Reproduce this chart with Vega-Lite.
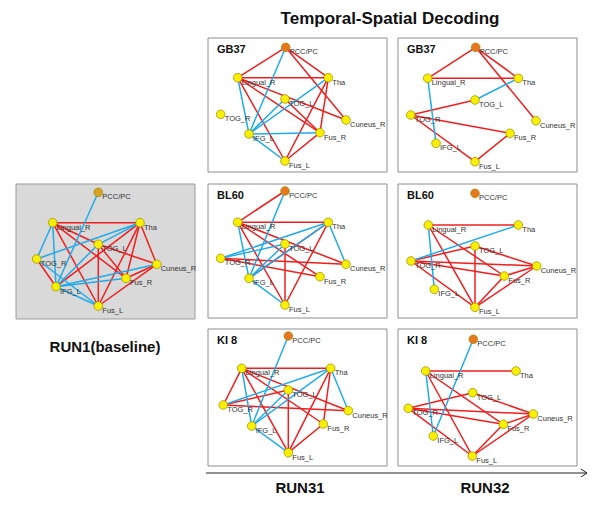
{
  "$schema": "https://vega.github.io/schema/vega-lite/v6.json",
  "width": 600,
  "height": 508,
  "autosize": {"type": "fit", "contains": "padding"},
  "padding": 0,
  "background": "white",
  "config": {"view": {"stroke": null}, "font": "Liberation Sans"},
  "datasets": {
    "boxes": [
      {"kind": "base", "x": 16, "x2": 195, "y": 184, "y2": 319},
      {"kind": "run", "x": 208, "x2": 387, "y": 38, "y2": 172},
      {"kind": "run", "x": 398, "x2": 577, "y": 38, "y2": 172},
      {"kind": "run", "x": 208, "x2": 387, "y": 184, "y2": 318},
      {"kind": "run", "x": 398, "x2": 577, "y": 184, "y2": 318},
      {"kind": "run", "x": 208, "x2": 387, "y": 329, "y2": 466},
      {"kind": "run", "x": 398, "x2": 577, "y": 329, "y2": 466}
    ],
    "nodes": [
      {"k": "b|PCC", "t": "pccb", "label": "PCC/PC", "x": 98.3, "y": 192.3},
      {"k": "b|Ling", "t": "roi", "label": "Lingual_R", "x": 52.7, "y": 222.7},
      {"k": "b|Tha", "t": "roi", "label": "Tha", "x": 140, "y": 222.7},
      {"k": "b|TOGL", "t": "roi", "label": "TOG_L", "x": 98.3, "y": 244.3},
      {"k": "b|TOGR", "t": "roi", "label": "TOG_R", "x": 36.7, "y": 259},
      {"k": "b|Cun", "t": "roi", "label": "Cuneus_R", "x": 156.7, "y": 264.3},
      {"k": "b|FusR", "t": "roi", "label": "Fus_R", "x": 126, "y": 278.3},
      {"k": "b|IFG", "t": "roi", "label": "IFG_L", "x": 56, "y": 286.7},
      {"k": "b|FusL", "t": "roi", "label": "Fus_L", "x": 98.3, "y": 306},

      {"k": "g31|PCC", "t": "pcc", "label": "PCC/PC", "x": 285.7, "y": 47.3},
      {"k": "g31|Ling", "t": "roi", "label": "Lingual_R", "x": 237.7, "y": 77.7},
      {"k": "g31|Tha", "t": "roi", "label": "Tha", "x": 328.3, "y": 77.7},
      {"k": "g31|TOGL", "t": "roi", "label": "TOG_L", "x": 285, "y": 99},
      {"k": "g31|TOGR", "t": "roi", "label": "TOG_R", "x": 220.7, "y": 114.3},
      {"k": "g31|Cun", "t": "roi", "label": "Cuneus_R", "x": 346, "y": 120},
      {"k": "g31|IFG", "t": "roi", "label": "IFG_L", "x": 249, "y": 134},
      {"k": "g31|FusR", "t": "roi", "label": "Fus_R", "x": 320, "y": 132.7},
      {"k": "g31|FusL", "t": "roi", "label": "Fus_L", "x": 285, "y": 161},

      {"k": "g32|PCC", "t": "pcc", "label": "PCC/PC", "x": 475.7, "y": 47.3},
      {"k": "g32|Ling", "t": "roi", "label": "Lingual_R", "x": 427.7, "y": 78.3},
      {"k": "g32|Tha", "t": "roi", "label": "Tha", "x": 518.3, "y": 78.3},
      {"k": "g32|TOGL", "t": "roi", "label": "TOG_L", "x": 475, "y": 100},
      {"k": "g32|TOGR", "t": "roi", "label": "TOG_R", "x": 410.7, "y": 115},
      {"k": "g32|Cun", "t": "roi", "label": "Cuneus_R", "x": 536, "y": 120.7},
      {"k": "g32|IFG", "t": "roi", "label": "IFG_L", "x": 436, "y": 143.3},
      {"k": "g32|FusR", "t": "roi", "label": "Fus_R", "x": 510, "y": 133.3},
      {"k": "g32|FusL", "t": "roi", "label": "Fus_L", "x": 475, "y": 161.7},

      {"k": "l31|PCC", "t": "pcc", "label": "PCC/PC", "x": 285, "y": 191},
      {"k": "l31|Ling", "t": "roi", "label": "Lingual_R", "x": 237.7, "y": 222.3},
      {"k": "l31|Tha", "t": "roi", "label": "Tha", "x": 328.3, "y": 222.3},
      {"k": "l31|TOGL", "t": "roi", "label": "TOG_L", "x": 285, "y": 244},
      {"k": "l31|TOGR", "t": "roi", "label": "TOG_R", "x": 220.7, "y": 258.3},
      {"k": "l31|Cun", "t": "roi", "label": "Cuneus_R", "x": 346, "y": 264.3},
      {"k": "l31|IFG", "t": "roi", "label": "IFG_L", "x": 249, "y": 278.3},
      {"k": "l31|FusR", "t": "roi", "label": "Fus_R", "x": 320, "y": 276.7},
      {"k": "l31|FusL", "t": "roi", "label": "Fus_L", "x": 285, "y": 305},

      {"k": "l32|PCC", "t": "pcc", "label": "PCC/PC", "x": 475, "y": 193.3},
      {"k": "l32|Ling", "t": "roi", "label": "Lingual_R", "x": 428.3, "y": 225},
      {"k": "l32|Tha", "t": "roi", "label": "Tha", "x": 518.3, "y": 225},
      {"k": "l32|TOGL", "t": "roi", "label": "TOG_L", "x": 475, "y": 246},
      {"k": "l32|TOGR", "t": "roi", "label": "TOG_R", "x": 411, "y": 261},
      {"k": "l32|Cun", "t": "roi", "label": "Cuneus_R", "x": 536.7, "y": 266},
      {"k": "l32|IFG", "t": "roi", "label": "IFG_L", "x": 434.3, "y": 289.3},
      {"k": "l32|FusR", "t": "roi", "label": "Fus_R", "x": 504.3, "y": 276},
      {"k": "l32|FusL", "t": "roi", "label": "Fus_L", "x": 475, "y": 307.3},

      {"k": "k31|PCC", "t": "pcc", "label": "PCC/PC", "x": 288.3, "y": 336},
      {"k": "k31|Ling", "t": "roi", "label": "Lingual_R", "x": 241.7, "y": 368.3},
      {"k": "k31|Tha", "t": "roi", "label": "Tha", "x": 330.7, "y": 368.3},
      {"k": "k31|TOGL", "t": "roi", "label": "TOG_L", "x": 288.3, "y": 390},
      {"k": "k31|TOGR", "t": "roi", "label": "TOG_R", "x": 223.3, "y": 405},
      {"k": "k31|Cun", "t": "roi", "label": "Cuneus_R", "x": 348.3, "y": 410.7},
      {"k": "k31|IFG", "t": "roi", "label": "IFG_L", "x": 251.7, "y": 426},
      {"k": "k31|FusR", "t": "roi", "label": "Fus_R", "x": 323.3, "y": 424},
      {"k": "k31|FusL", "t": "roi", "label": "Fus_L", "x": 288.3, "y": 452.7},

      {"k": "k32|PCC", "t": "pcc", "label": "PCC/PC", "x": 473.3, "y": 339.3},
      {"k": "k32|Ling", "t": "roi", "label": "Lingual_R", "x": 425.7, "y": 371},
      {"k": "k32|Tha", "t": "roi", "label": "Tha", "x": 516, "y": 371},
      {"k": "k32|TOGL", "t": "roi", "label": "TOG_L", "x": 472.7, "y": 392.7},
      {"k": "k32|TOGR", "t": "roi", "label": "TOG_R", "x": 408.3, "y": 408.3},
      {"k": "k32|Cun", "t": "roi", "label": "Cuneus_R", "x": 533.3, "y": 414},
      {"k": "k32|IFG", "t": "roi", "label": "IFG_L", "x": 433.3, "y": 436},
      {"k": "k32|FusR", "t": "roi", "label": "Fus_R", "x": 503.3, "y": 424.3},
      {"k": "k32|FusL", "t": "roi", "label": "Fus_L", "x": 472.3, "y": 456}
    ],
    "edges": [
      {"a": "b|Ling", "b": "b|Tha", "c": "r"},
      {"a": "b|Ling", "b": "b|FusL", "c": "r"},
      {"a": "b|Ling", "b": "b|FusR", "c": "r"},
      {"a": "b|Ling", "b": "b|TOGL", "c": "r"},
      {"a": "b|Tha", "b": "b|FusL", "c": "r"},
      {"a": "b|Tha", "b": "b|FusR", "c": "r"},
      {"a": "b|Tha", "b": "b|Cun", "c": "r"},
      {"a": "b|Tha", "b": "b|IFG", "c": "r"},
      {"a": "b|TOGL", "b": "b|FusL", "c": "r"},
      {"a": "b|TOGL", "b": "b|Cun", "c": "r"},
      {"a": "b|TOGL", "b": "b|FusR", "c": "r"},
      {"a": "b|TOGR", "b": "b|IFG", "c": "r"},
      {"a": "b|Cun", "b": "b|FusL", "c": "r"},
      {"a": "b|Cun", "b": "b|FusR", "c": "r"},
      {"a": "b|PCC", "b": "b|IFG", "c": "b"},
      {"a": "b|Ling", "b": "b|TOGR", "c": "b"},
      {"a": "b|Ling", "b": "b|IFG", "c": "b"},
      {"a": "b|Tha", "b": "b|TOGR", "c": "b"},
      {"a": "b|Tha", "b": "b|TOGL", "c": "b"},
      {"a": "b|TOGL", "b": "b|IFG", "c": "b"},
      {"a": "b|TOGR", "b": "b|FusL", "c": "b"},
      {"a": "b|IFG", "b": "b|Cun", "c": "b"},
      {"a": "b|IFG", "b": "b|FusR", "c": "b"},
      {"a": "b|IFG", "b": "b|FusL", "c": "b"},

      {"a": "g31|PCC", "b": "g31|Ling", "c": "r"},
      {"a": "g31|PCC", "b": "g31|Tha", "c": "r"},
      {"a": "g31|PCC", "b": "g31|Cun", "c": "r"},
      {"a": "g31|Ling", "b": "g31|Tha", "c": "r"},
      {"a": "g31|Ling", "b": "g31|FusL", "c": "r"},
      {"a": "g31|Ling", "b": "g31|FusR", "c": "r"},
      {"a": "g31|Ling", "b": "g31|Cun", "c": "r"},
      {"a": "g31|Tha", "b": "g31|FusL", "c": "r"},
      {"a": "g31|Tha", "b": "g31|FusR", "c": "r"},
      {"a": "g31|TOGL", "b": "g31|FusR", "c": "r"},
      {"a": "g31|FusR", "b": "g31|FusL", "c": "r"},
      {"a": "g31|PCC", "b": "g31|IFG", "c": "b"},
      {"a": "g31|Ling", "b": "g31|IFG", "c": "b"},
      {"a": "g31|Tha", "b": "g31|IFG", "c": "b"},
      {"a": "g31|TOGL", "b": "g31|IFG", "c": "b"},
      {"a": "g31|IFG", "b": "g31|FusR", "c": "b"},
      {"a": "g31|IFG", "b": "g31|FusL", "c": "b"},

      {"a": "g32|PCC", "b": "g32|Ling", "c": "r"},
      {"a": "g32|PCC", "b": "g32|Tha", "c": "r"},
      {"a": "g32|PCC", "b": "g32|Cun", "c": "r"},
      {"a": "g32|Ling", "b": "g32|Tha", "c": "r"},
      {"a": "g32|TOGL", "b": "g32|TOGR", "c": "r"},
      {"a": "g32|TOGR", "b": "g32|FusR", "c": "r"},
      {"a": "g32|TOGR", "b": "g32|FusL", "c": "r"},
      {"a": "g32|FusR", "b": "g32|FusL", "c": "r"},
      {"a": "g32|Ling", "b": "g32|IFG", "c": "b"},
      {"a": "g32|Tha", "b": "g32|TOGL", "c": "b"},

      {"a": "l31|PCC", "b": "l31|Ling", "c": "r"},
      {"a": "l31|Ling", "b": "l31|Tha", "c": "r"},
      {"a": "l31|Ling", "b": "l31|FusL", "c": "r"},
      {"a": "l31|Ling", "b": "l31|FusR", "c": "r"},
      {"a": "l31|Ling", "b": "l31|Cun", "c": "r"},
      {"a": "l31|Tha", "b": "l31|FusL", "c": "r"},
      {"a": "l31|Tha", "b": "l31|IFG", "c": "r"},
      {"a": "l31|TOGL", "b": "l31|FusL", "c": "r"},
      {"a": "l31|TOGR", "b": "l31|Cun", "c": "r"},
      {"a": "l31|TOGR", "b": "l31|FusR", "c": "r"},
      {"a": "l31|PCC", "b": "l31|IFG", "c": "b"},
      {"a": "l31|Ling", "b": "l31|IFG", "c": "b"},
      {"a": "l31|Tha", "b": "l31|TOGR", "c": "b"},
      {"a": "l31|TOGL", "b": "l31|TOGR", "c": "b"},
      {"a": "l31|Tha", "b": "l31|IFG", "c": "b"},
      {"a": "l31|Tha", "b": "l31|Cun", "c": "b"},
      {"a": "l31|TOGL", "b": "l31|IFG", "c": "b"},
      {"a": "l31|IFG", "b": "l31|FusL", "c": "b"},

      {"a": "l32|Ling", "b": "l32|Tha", "c": "r"},
      {"a": "l32|Ling", "b": "l32|FusL", "c": "r"},
      {"a": "l32|Ling", "b": "l32|FusR", "c": "r"},
      {"a": "l32|TOGL", "b": "l32|TOGR", "c": "r"},
      {"a": "l32|TOGL", "b": "l32|FusL", "c": "r"},
      {"a": "l32|TOGL", "b": "l32|Cun", "c": "r"},
      {"a": "l32|TOGR", "b": "l32|Cun", "c": "r"},
      {"a": "l32|TOGR", "b": "l32|FusR", "c": "r"},
      {"a": "l32|TOGR", "b": "l32|FusL", "c": "r"},
      {"a": "l32|Cun", "b": "l32|FusR", "c": "r"},
      {"a": "l32|Cun", "b": "l32|FusL", "c": "r"},
      {"a": "l32|FusR", "b": "l32|FusL", "c": "r"},
      {"a": "l32|Ling", "b": "l32|IFG", "c": "b"},
      {"a": "l32|Tha", "b": "l32|TOGR", "c": "b"},

      {"a": "k31|Ling", "b": "k31|Tha", "c": "r"},
      {"a": "k31|Ling", "b": "k31|TOGR", "c": "r"},
      {"a": "k31|Ling", "b": "k31|FusL", "c": "r"},
      {"a": "k31|Ling", "b": "k31|FusR", "c": "r"},
      {"a": "k31|Ling", "b": "k31|Cun", "c": "r"},
      {"a": "k31|Tha", "b": "k31|FusL", "c": "r"},
      {"a": "k31|Tha", "b": "k31|FusR", "c": "r"},
      {"a": "k31|TOGL", "b": "k31|TOGR", "c": "r"},
      {"a": "k31|TOGL", "b": "k31|FusL", "c": "r"},
      {"a": "k31|TOGR", "b": "k31|Cun", "c": "r"},
      {"a": "k31|FusR", "b": "k31|FusL", "c": "r"},
      {"a": "k31|PCC", "b": "k31|IFG", "c": "b"},
      {"a": "k31|Ling", "b": "k31|IFG", "c": "b"},
      {"a": "k31|Tha", "b": "k31|TOGR", "c": "b"},
      {"a": "k31|Tha", "b": "k31|IFG", "c": "b"},
      {"a": "k31|Tha", "b": "k31|Cun", "c": "b"},
      {"a": "k31|TOGL", "b": "k31|IFG", "c": "b"},
      {"a": "k31|IFG", "b": "k31|FusL", "c": "b"},

      {"a": "k32|Ling", "b": "k32|Tha", "c": "r"},
      {"a": "k32|Ling", "b": "k32|FusL", "c": "r"},
      {"a": "k32|Ling", "b": "k32|FusR", "c": "r"},
      {"a": "k32|TOGL", "b": "k32|TOGR", "c": "r"},
      {"a": "k32|TOGL", "b": "k32|Cun", "c": "r"},
      {"a": "k32|TOGR", "b": "k32|Cun", "c": "r"},
      {"a": "k32|TOGR", "b": "k32|FusR", "c": "r"},
      {"a": "k32|TOGR", "b": "k32|FusL", "c": "r"},
      {"a": "k32|Cun", "b": "k32|FusR", "c": "r"},
      {"a": "k32|Cun", "b": "k32|FusL", "c": "r"},
      {"a": "k32|FusR", "b": "k32|FusL", "c": "r"},
      {"a": "k32|PCC", "b": "k32|IFG", "c": "b"},
      {"a": "k32|Ling", "b": "k32|IFG", "c": "b"}
    ],
    "panelLabels": [
      {"label": "GB37", "x": 217, "y": 50},
      {"label": "GB37", "x": 407, "y": 50},
      {"label": "BL60", "x": 217, "y": 196},
      {"label": "BL60", "x": 407, "y": 196},
      {"label": "KI 8", "x": 217, "y": 341},
      {"label": "KI 8", "x": 407, "y": 341}
    ],
    "runLabels": [
      {"label": "RUN1(baseline)", "x": 105, "y": 347},
      {"label": "RUN31", "x": 300, "y": 488},
      {"label": "RUN32", "x": 485, "y": 488}
    ],
    "arrow": [
      {"x": 206, "y": 473, "x2": 587, "y2": 473},
      {"x": 581, "y": 469, "x2": 587, "y2": 473},
      {"x": 581, "y": 477, "x2": 587, "y2": 473}
    ]
  },
  "layer": [
    {
      "data": {"name": "boxes"},
      "transform": [{"filter": "datum.kind === 'base'"}],
      "mark": {"type": "rect", "strokeWidth": 1, "fill": "#d9d9d9", "stroke": "#9c9c9c"},
      "encoding": {
        "x": {"field": "x", "type": "quantitative", "axis": null, "scale": {"domain": [0, 600], "nice": false, "zero": false}},
        "x2": {"field": "x2"},
        "y": {"field": "y", "type": "quantitative", "axis": null, "scale": {"domain": [0, 508], "reverse": true, "nice": false, "zero": false}},
        "y2": {"field": "y2"}
      }
    },
    {
      "data": {"name": "boxes"},
      "transform": [{"filter": "datum.kind === 'run'"}],
      "mark": {"type": "rect", "strokeWidth": 1, "fill": "#ffffff", "stroke": "#8e8e8e"},
      "encoding": {
        "x": {"field": "x", "type": "quantitative"},
        "x2": {"field": "x2"},
        "y": {"field": "y", "type": "quantitative"},
        "y2": {"field": "y2"}
      }
    },
    {
      "data": {"name": "edges"},
      "transform": [
        {"lookup": "a", "from": {"data": {"name": "nodes"}, "key": "k", "fields": ["x", "y"]}, "as": ["xa", "ya"]},
        {"lookup": "b", "from": {"data": {"name": "nodes"}, "key": "k", "fields": ["x", "y"]}, "as": ["xb", "yb"]}
      ],
      "mark": {"type": "rule", "strokeWidth": 1.5},
      "encoding": {
        "x": {"field": "xa", "type": "quantitative"},
        "y": {"field": "ya", "type": "quantitative"},
        "x2": {"field": "xb"},
        "y2": {"field": "yb"},
        "color": {"field": "c", "type": "nominal", "legend": null, "scale": {"domain": ["r", "b"], "range": ["#ef1f1f", "#22abe8"]}}
      }
    },
    {
      "data": {"name": "nodes"},
      "mark": {"type": "point", "filled": true, "size": 75, "stroke": "#9a8a00", "strokeWidth": 0.7, "opacity": 1},
      "encoding": {
        "x": {"field": "x", "type": "quantitative"},
        "y": {"field": "y", "type": "quantitative"},
        "fill": {"field": "t", "type": "nominal", "legend": null, "scale": {"domain": ["roi", "pcc", "pccb"], "range": ["#f8f000", "#e8761e", "#d8a323"]}}
      }
    },
    {
      "data": {"name": "nodes"},
      "mark": {"type": "text", "align": "left", "baseline": "middle", "dx": 4, "dy": 5, "fontSize": 7.5, "fill": "#333333", "font": "Liberation Sans"},
      "encoding": {
        "x": {"field": "x", "type": "quantitative"},
        "y": {"field": "y", "type": "quantitative"},
        "text": {"field": "label"}
      }
    },
    {
      "data": {"name": "panelLabels"},
      "mark": {"type": "text", "align": "left", "baseline": "middle", "fontSize": 11, "fontWeight": "bold", "fill": "#111111", "font": "Liberation Sans"},
      "encoding": {
        "x": {"field": "x", "type": "quantitative"},
        "y": {"field": "y", "type": "quantitative"},
        "text": {"field": "label"}
      }
    },
    {
      "data": {"name": "runLabels"},
      "mark": {"type": "text", "align": "center", "baseline": "middle", "fontSize": 15, "fontWeight": "bold", "fill": "#111111", "font": "Liberation Sans"},
      "encoding": {
        "x": {"field": "x", "type": "quantitative"},
        "y": {"field": "y", "type": "quantitative"},
        "text": {"field": "label"}
      }
    },
    {
      "data": {"values": [{"label": "Temporal-Spatial Decoding", "x": 390, "y": 19}]},
      "mark": {"type": "text", "align": "center", "baseline": "middle", "fontSize": 17, "fontWeight": "bold", "fill": "#111111", "font": "Liberation Sans"},
      "encoding": {
        "x": {"field": "x", "type": "quantitative"},
        "y": {"field": "y", "type": "quantitative"},
        "text": {"field": "label"}
      }
    },
    {
      "data": {"name": "arrow"},
      "mark": {"type": "rule", "strokeWidth": 1, "color": "#222222"},
      "encoding": {
        "x": {"field": "x", "type": "quantitative"},
        "y": {"field": "y", "type": "quantitative"},
        "x2": {"field": "x2"},
        "y2": {"field": "y2"}
      }
    }
  ]
}
